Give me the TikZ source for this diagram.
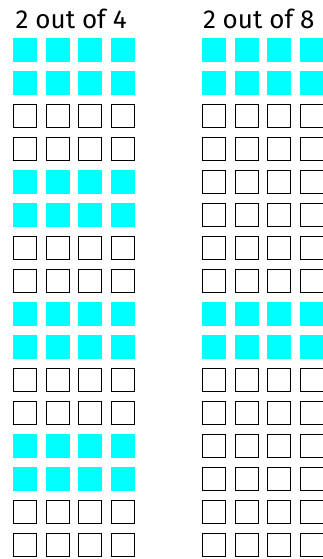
\documentclass[tikz,border=0pt]{standalone}
\usepackage{fontspec}
\setmainfont{Fira Sans}
\definecolor{boxcyan}{RGB}{0,255,255}
\begin{document}
\begin{tikzpicture}[x=1pt,y=-1pt,
  cell/.style={minimum size=24pt,inner sep=0pt,outer sep=0pt,anchor=north west},
  emptycell/.style={cell,draw=black,line width=1pt,minimum size=23pt},
  fullcell/.style={cell,fill=boxcyan},
  title/.style={anchor=base west,inner sep=0pt,font=\fontsize{26}{26}\selectfont}]
\useasboundingbox[fill=white] (0,0) rectangle (323,559);
\clip (0,0) rectangle (323,559);
\node[title] (t1) at (15.5,28.3) {2 out of 4};
\node[title] (t2) at (202.8,28.3) {2 out of 8};
% left grid: period 4 (2 filled, 2 empty)
\foreach \j in {0,...,15}{
  \foreach \i in {0,...,3}{
    \pgfmathtruncatemacro{\m}{mod(\j,4)}
    \ifnum\m<2
      \node[fullcell] (L-\j-\i) at ({12.7+32.8*\i},{38+33.02*\j}) {};
    \else
      \node[emptycell] (L-\j-\i) at ({13.2+32.8*\i},{38.5+33.02*\j}) {};
    \fi
  }
}
% right grid: period 8 (2 filled, 6 empty)
\foreach \j in {0,...,15}{
  \foreach \i in {0,...,3}{
    \pgfmathtruncatemacro{\m}{mod(\j,8)}
    \ifnum\m<2
      \node[fullcell] (R-\j-\i) at ({201.7+32.8*\i},{38+33.02*\j}) {};
    \else
      \node[emptycell] (R-\j-\i) at ({202.2+32.8*\i},{38.5+33.02*\j}) {};
    \fi
  }
}
\end{tikzpicture}
\end{document}
